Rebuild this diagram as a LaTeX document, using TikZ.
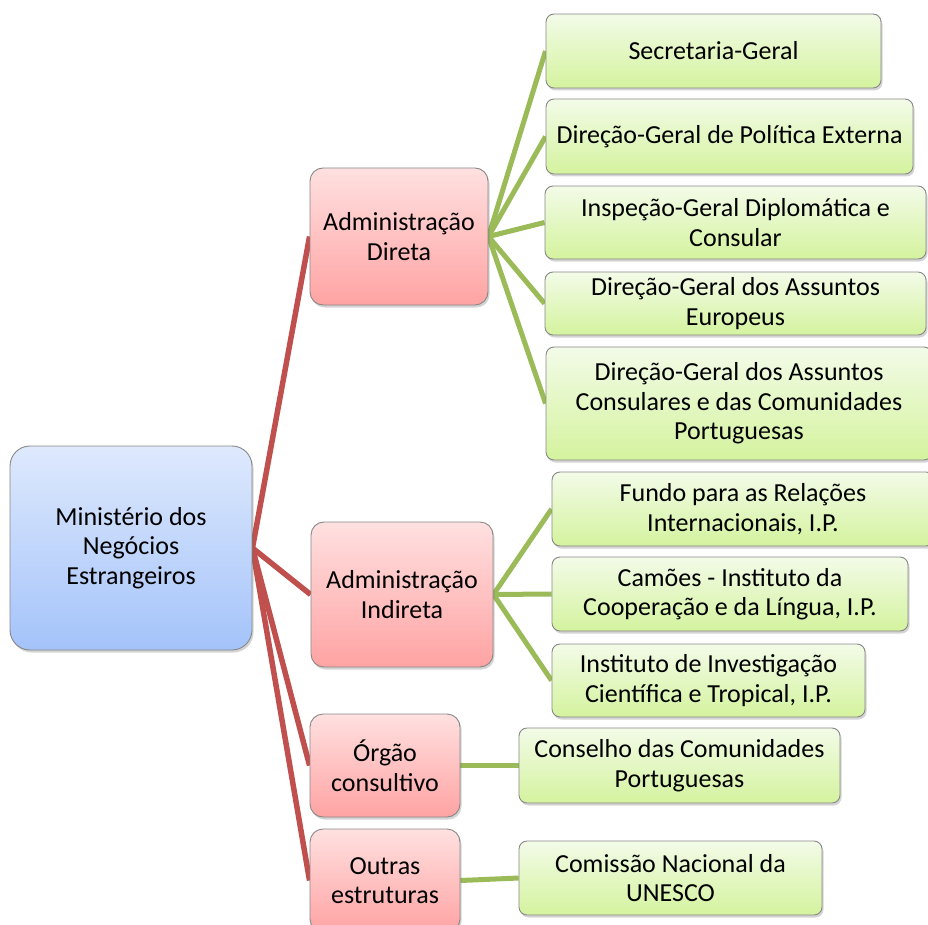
\documentclass[tikz,border=0pt]{standalone}
\usepackage{fontspec}
\setmainfont{Carlito}
\usetikzlibrary{shadows,backgrounds}
\definecolor{rootTop}{RGB}{222,233,253}
\definecolor{rootBot}{RGB}{164,195,250}
\definecolor{redTop}{RGB}{255,224,224}
\definecolor{redBot}{RGB}{255,163,163}
\definecolor{grnTop}{RGB}{243,251,232}
\definecolor{grnBot}{RGB}{212,243,158}
\definecolor{redLine}{RGB}{192,80,77}
\definecolor{grnLine}{RGB}{155,187,89}
\definecolor{boxEdge}{RGB}{135,135,135}
\tikzset{
  basebox/.style={draw=boxEdge, line width=0.9pt, inner sep=0pt, align=center,
    font=\fontsize{26}{29.5}\selectfont,
    drop shadow={shadow xshift=1.5pt, shadow yshift=-2.5pt, opacity=0.28, fill=black!60}},
  rootbox/.style={basebox, rounded corners=20pt, top color=rootTop, bottom color=rootBot},
  redbox/.style={basebox, rounded corners=13pt, top color=redTop, bottom color=redBot},
  grnbox/.style={basebox, rounded corners=8pt, top color=grnTop, bottom color=grnBot},
  redconn/.style={draw=redLine, line width=5.5pt},
  grnconn/.style={draw=grnLine, line width=5pt},
}
\begin{document}
\begin{tikzpicture}[x=1pt,y=-1pt]
\useasboundingbox (0,0) rectangle (928,925);
% root
\node[rootbox, minimum width=242pt, minimum height=204pt] (root) at (131,548)
  {Ministério dos\\Negócios\\Estrangeiros};
% level 1
\node[redbox, minimum width=178pt, minimum height=137pt] (ad) at (399,236.5)
  {Administração\\Direta};
\node[redbox, minimum width=182pt, minimum height=145pt] (ai) at (402,594.5)
  {Administração\\Indireta};
\node[redbox, minimum width=150pt, minimum height=103pt] (oc) at (385,765.5)
  {Órgão\\consultivo};
\node[redbox, minimum width=150pt, minimum height=103pt] (oe) at (385,880.5)
  {Outras\\estruturas};
% level 2 under Administração Direta
\node[grnbox, minimum width=335pt, minimum height=74pt] (sg) at (713.5,51)
  {Secretaria-Geral};
\node[grnbox, minimum width=367pt, minimum height=75pt] (dgpe) at (729.5,136.5)
  {Direção-Geral de Política Externa};
\node[grnbox, minimum width=381pt, minimum height=73pt] (igdc) at (735.5,222.5)
  {Inspeção-Geral Diplomática e\\Consular};
\node[grnbox, minimum width=381pt, minimum height=63pt] (dgae) at (735.5,303.5)
  {Direção-Geral dos Assuntos\\Europeus};
\node[grnbox, minimum width=386pt, minimum height=113pt] (dgac) at (739,403.5)
  {Direção-Geral dos Assuntos\\Consulares e das Comunidades\\Portuguesas};
% level 2 under Administração Indireta
\node[grnbox, minimum width=382pt, minimum height=74pt] (fri) at (743,509)
  {Fundo para as Relações\\Internacionais, I.P.};
\node[grnbox, minimum width=356pt, minimum height=74pt] (cam) at (730,594)
  {Camões - Instituto da\\Cooperação e da Língua, I.P.};
\node[grnbox, minimum width=313pt, minimum height=73pt] (iict) at (708.5,680.5)
  {Instituto de Investigação\\Científica e Tropical, I.P.};
% others
\node[grnbox, minimum width=321pt, minimum height=75pt] (ccp) at (679.5,765.5)
  {Conselho das Comunidades\\Portuguesas};
\node[grnbox, minimum width=303pt, minimum height=74pt] (cnu) at (670.5,878)
  {Comissão Nacional da\\UNESCO};
% connectors
\begin{pgfonlayer}{background}
\draw[redconn] (root.east) -- (ad.west);
\draw[redconn] (root.east) -- (ai.west);
\draw[redconn] (root.east) -- (oc.west);
\draw[redconn] (root.east) -- (oe.west);
\draw[grnconn] (ad.east) -- (sg.west);
\draw[grnconn] (ad.east) -- (dgpe.west);
\draw[grnconn] (ad.east) -- (igdc.west);
\draw[grnconn] (ad.east) -- (dgae.west);
\draw[grnconn] (ad.east) -- (dgac.west);
\draw[grnconn] (ai.east) -- (fri.west);
\draw[grnconn] (ai.east) -- (cam.west);
\draw[grnconn] (ai.east) -- (iict.west);
\draw[grnconn] (oc.east) -- (ccp.west);
\draw[grnconn] (oe.east) -- (cnu.west);
\end{pgfonlayer}
\end{tikzpicture}
\end{document}
